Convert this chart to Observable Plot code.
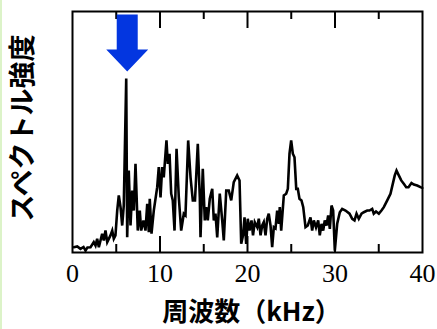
<!DOCTYPE html>
<html>
<head>
<meta charset="utf-8">
<script src="https://cdn.jsdelivr.net/npm/d3@7"></script>
<script src="https://cdn.jsdelivr.net/npm/@observablehq/plot@0.6"></script>
<style>
  html, body { margin: 0; padding: 0; background: #fff; }
  #wrap { position: relative; width: 437px; height: 329px; overflow: hidden; }
  #strip { position: absolute; left: 0; top: 0; width: 2px; height: 329px; background: #dcf3c8; }
</style>
</head>
<body>
<div id="wrap"><div id="strip"></div></div>
<script>
// frequency (kHz)
const freq = [0.15,0.54,0.91,1.26,1.49,1.71,2.06,2.43,2.63,2.82,3.01,3.39,3.58,3.77,3.97,4.34,4.54,4.72,4.91,5.11,5.29,5.49,5.68,5.86,6.14,6.25,6.43,6.63,6.82,7.01,7.2,7.46,7.69,7.85,8.11,8.34,8.54,8.72,8.83,9.03,9.29,9.68,9.86,10.06,10.25,10.43,10.74,10.89,11.09,11.28,11.46,11.66,11.89,12.15,12.42,12.72,12.91,13.22,13.49,13.75,14.0,14.32,14.55,14.63,14.89,15.12,15.28,15.46,15.69,15.97,16.15,16.34,16.54,16.83,17.11,17.29,17.57,17.86,18.14,18.43,18.82,19.09,19.28,19.49,19.66,19.85,20.03,20.23,20.46,20.63,20.83,21.11,21.29,21.49,21.68,21.86,22.06,22.25,22.43,22.63,22.82,23.01,23.2,23.39,23.58,23.69,23.85,24.15,24.42,24.61,24.8,24.99,25.18,25.37,25.57,25.75,25.94,26.17,26.37,26.63,26.89,27.2,27.39,27.58,27.83,28.08,28.26,28.46,28.65,28.83,29.03,29.22,29.41,29.6,29.79,29.98,30.25,30.55,30.82,31.2,31.66,31.97,32.23,32.46,32.72,33.03,33.29,33.68,33.94,34.25,34.43,34.69,35.01,35.31,35.58,35.97,36.34,36.65,36.83,37.03,37.29,37.57,37.86,38.14,38.4,38.74,39.01,39.39,39.77,39.97];
// spectral intensity (arbitrary units, 0–100)
const intensity = [2.2,2.5,1.5,2.3,0.8,2.1,2.2,4.3,2.9,5.7,2.2,7.8,5.0,9.1,4.3,7.1,9.1,5.7,7.1,17.4,23.7,18.8,11.2,19.5,72.2,6.3,34.0,11.2,25.7,17.4,36.8,9.1,17.4,9.1,13.3,9.1,20.2,8.4,22.3,7.8,17.4,27.1,35.4,22.9,35.4,31.2,46.5,36.8,41.0,24.4,21.6,9.1,43.0,22.9,9.1,16.1,15.4,46.5,31.2,21.6,21.6,45.1,22.9,6.3,34.7,13.3,18.8,13.3,22.3,26.4,13.3,16.1,6.3,24.4,13.3,5.0,25.7,25.7,21.6,29.2,32.0,29.9,3.6,7.1,14.6,3.6,14.0,9.1,13.3,7.1,12.6,10.5,14.0,7.1,11.2,12.6,7.1,14.0,16.1,11.2,2.2,10.5,10.0,17.4,11.9,18.8,9.1,23.7,24.4,26.4,41.0,46.5,41.0,39.5,26.4,26.4,22.3,21.6,18.8,10.5,11.2,14.6,9.1,13.3,10.4,13.3,7.1,11.9,9.1,13.3,11.2,15.4,9.8,19.5,17.4,0.8,11.9,16.7,18.1,17.4,16.1,14.0,13.3,16.1,14.0,16.1,16.7,17.4,17.4,18.1,16.1,17.0,16.1,17.4,18.8,21.6,24.4,29.2,32.0,34.0,32.0,29.9,28.5,27.1,27.1,28.8,28.2,27.8,27.1,26.8];

const tickLabels = [0, 10, 20, 30, 40];
const majorTicks = [10, 20, 30];
const minorTicks = [5, 15, 25, 35];
const xLabel = "周波数（kHz）";
const yLabel = "スペクトル強度";

const data = freq.map((f, i) => ({f, v: intensity[i]}));
const peak = data.reduce((a, b) => (b.v > a.v ? b : a));

// downward arrow symbol, tip at origin
const arrowSymbol = {
  draw(ctx) {
    ctx.moveTo(0, 0);
    ctx.lineTo(21, -22);
    ctx.lineTo(10.5, -22);
    ctx.lineTo(10.5, -57);
    ctx.lineTo(-10.5, -57);
    ctx.lineTo(-10.5, -22);
    ctx.lineTo(-21, -22);
    ctx.closePath();
  }
};

const serif = "'Liberation Serif', 'DejaVu Serif', serif";
const gothic = "'Noto Sans CJK JP', 'Noto Sans', sans-serif";

const chart = Plot.plot({
  width: 437,
  height: 329,
  marginLeft: 72,
  marginRight: 15,
  marginTop: 11,
  marginBottom: 77,
  style: {background: "transparent", overflow: "visible"},
  x: {domain: [0, 40]},
  y: {domain: [0, 100], axis: null},
  marks: [
    Plot.line(data, {x: "f", y: "v", stroke: "black", strokeWidth: 2.6, strokeLinejoin: "miter", strokeMiterlimit: 4}),
    Plot.axisX({anchor: "bottom", ticks: majorTicks, tickSize: -16, strokeWidth: 2, text: null, label: null}),
    Plot.axisX({anchor: "bottom", ticks: minorTicks, tickSize: -8, strokeWidth: 2, text: null, label: null}),
    Plot.axisX({anchor: "top", ticks: majorTicks, tickSize: -16, strokeWidth: 2, text: null, label: null}),
    Plot.axisX({anchor: "top", ticks: minorTicks, tickSize: -7, strokeWidth: 2, text: null, label: null}),
    Plot.axisX({anchor: "bottom", ticks: tickLabels, tickSize: 0, tickPadding: 11, fontSize: 26, fontFamily: serif, fill: "black", label: null, tickFormat: d => String(d)}),
    Plot.frame({stroke: "black", strokeWidth: 2}),
    Plot.dot([peak], {x: "f", y: "v", symbol: arrowSymbol, r: 10, fill: "#0336e0", stroke: null, dx: 1, dy: -7}),
    Plot.text([xLabel], {text: d => d, frameAnchor: "bottom", textAnchor: "middle", dx: 4, dy: 60, fontSize: 26, fontWeight: "bold", fontFamily: gothic, fill: "black", lineAnchor: "middle"}),
    Plot.text([yLabel], {text: d => d, frameAnchor: "left", textAnchor: "middle", dx: -49, dy: -4, rotate: -90, fontSize: 27, fontWeight: "bold", fontFamily: gothic, fill: "black", lineAnchor: "middle"})
  ]
});
document.getElementById("wrap").appendChild(chart);
</script>
</body>
</html>
